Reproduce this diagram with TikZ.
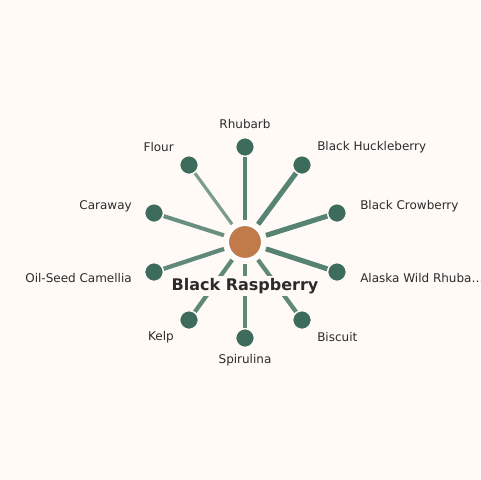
\documentclass[tikz,border=0pt]{standalone}
\usepackage{fontspec}
\setmainfont{DejaVu Sans}
\definecolor{bg}{HTML}{FFFAF6}
\definecolor{leaf}{HTML}{3D6B5C}
\definecolor{edge}{HTML}{4F7D6C}
\definecolor{hub}{HTML}{C17A4A}
\definecolor{ink}{HTML}{2B2B2B}
\begin{document}
\begin{tikzpicture}[x=0.75pt,y=-0.75pt,
  leafnode/.style={circle,fill=leaf,draw=bg,line width=1pt,minimum size=14pt,inner sep=0pt},
  hubnode/.style={circle,fill=hub,draw=white,line width=2pt,minimum size=26pt,inner sep=0pt},
  lab/.style={text=ink,font=\fontsize{9}{11}\selectfont,inner sep=0pt},
  link/.style={draw=edge,shorten <=2.5pt}]
\fill[bg] (0,0) rectangle (480,480);
\useasboundingbox (0,0) rectangle (480,480);
\node[hubnode] (c) at (245,242) {};
\node[leafnode] (n1) at (245,147) {};
\node[leafnode] (n2) at (302,165) {};
\node[leafnode] (n3) at (337,213) {};
\node[leafnode] (n4) at (337,272) {};
\node[leafnode] (n5) at (302,320) {};
\node[leafnode] (n6) at (245,338) {};
\node[leafnode] (n7) at (189,320) {};
\node[leafnode] (n8) at (154,272) {};
\node[leafnode] (n9) at (154,213) {};
\node[leafnode] (n10) at (189,165) {};
\draw[link,line width=3.6pt,opacity=0.95] (c) -- (n1);
\draw[link,line width=3.8pt,opacity=0.95] (c) -- (n2);
\draw[link,line width=3.8pt,opacity=0.95] (c) -- (n3);
\draw[link,line width=3.8pt,opacity=0.95] (c) -- (n4);
\draw[link,line width=3.2pt,opacity=0.9] (c) -- (n5);
\draw[link,line width=2.8pt,opacity=0.9] (c) -- (n6);
\draw[link,line width=3.2pt,opacity=0.9] (c) -- (n7);
\draw[link,line width=3.2pt,opacity=0.9] (c) -- (n8);
\draw[link,line width=3.0pt,opacity=0.85] (c) -- (n9);
\draw[link,line width=2.4pt,opacity=0.75] (c) -- (n10);
\node[hubnode] at (c) {};
\node[leafnode] at (n1) {};
\node[leafnode] at (n2) {};
\node[leafnode] at (n3) {};
\node[leafnode] at (n4) {};
\node[leafnode] at (n5) {};
\node[leafnode] at (n6) {};
\node[leafnode] at (n7) {};
\node[leafnode] at (n8) {};
\node[leafnode] at (n9) {};
\node[leafnode] at (n10) {};
\node[fill=bg,text=ink,font=\bfseries\fontsize{12}{14}\selectfont,inner sep=1.5pt] (t) at (245,286) {Black Raspberry};
\node[lab] (l1) at (245,124) {Rhubarb};
\node[lab,anchor=west] (l2) at (317,147) {Black Huckleberry};
\node[lab,anchor=west] (l3) at (360,206) {Black Crowberry};
\node[lab,anchor=west] (l4) at (360,278) {Alaska Wild Rhuba…};
\node[lab,anchor=west] (l5) at (317,337) {Biscuit};
\node[lab] (l6) at (245,360) {Spirulina};
\node[lab,anchor=east] (l7) at (174,337) {Kelp};
\node[lab,anchor=east] (l8) at (132,278) {Oil-Seed Camellia};
\node[lab,anchor=east] (l9) at (132,206) {Caraway};
\node[lab,anchor=east] (l10) at (174,147) {Flour};
\end{tikzpicture}
\end{document}
